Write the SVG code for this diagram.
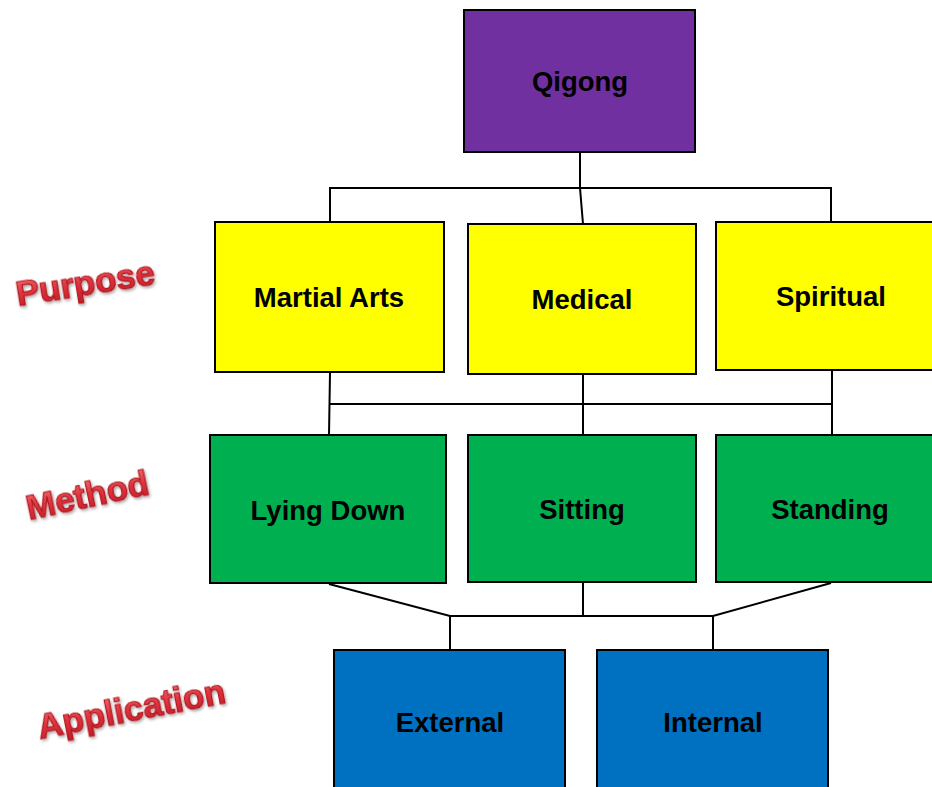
<svg xmlns="http://www.w3.org/2000/svg" width="932" height="787" viewBox="0 0 932 787">
<defs>
<linearGradient id="redg" x1="0" y1="0" x2="0" y2="1">
<stop offset="0" stop-color="#F4767A"/>
<stop offset="0.5" stop-color="#E0323C"/>
<stop offset="1" stop-color="#C01E28"/>
</linearGradient>
<filter id="sh" x="-20%" y="-30%" width="140%" height="160%">
<feDropShadow dx="1" dy="2" stdDeviation="1.5" flood-color="#000" flood-opacity="0.35"/>
</filter>
<style>
.box{stroke:#000;stroke-width:2}
.t{font-family:"Liberation Sans",Arial,sans-serif;font-weight:bold;font-size:27.5px;text-anchor:middle;fill:#000}
.w{font-family:"Liberation Sans",Arial,sans-serif;font-weight:bold;font-size:35px;fill:url(#redg);stroke:#B01820;stroke-width:1.2;filter:url(#sh)}
.c{fill:none;stroke:#000;stroke-width:2}
</style>
</defs>
<rect width="932" height="787" fill="#fff"/>
<g id="connectors">
<polyline class="c" points="580,152 580,188 583,224"/>
<polyline class="c" points="330,222 330,188 831,188 831,222"/>
<polyline class="c" points="330,373 329,435"/>
<line class="c" x1="583" y1="375" x2="583" y2="435"/>
<line class="c" x1="832" y1="371" x2="832" y2="435"/>
<line class="c" x1="330" y1="404" x2="832" y2="404"/>
<polyline class="c" points="329,584 450,616 713,616 831,583"/>
<line class="c" x1="583" y1="582" x2="583" y2="616"/>
<line class="c" x1="450" y1="616" x2="450" y2="650"/>
<line class="c" x1="713" y1="616" x2="713" y2="650"/>
</g>
<g id="qigong"><rect class="box" x="464" y="10" width="231" height="142" fill="#7030A0"/><text class="t" x="580" y="91">Qigong</text></g>
<g id="martial"><rect class="box" x="215" y="222" width="229" height="150" fill="#FFFF00"/><text class="t" x="329" y="307">Martial Arts</text></g>
<g id="medical"><rect class="box" x="468" y="224" width="228" height="150" fill="#FFFF00"/><text class="t" x="582" y="309">Medical</text></g>
<g id="spiritual"><rect class="box" x="716" y="222" width="220" height="148" fill="#FFFF00"/><text class="t" x="831" y="306">Spiritual</text></g>
<g id="lying"><rect class="box" x="210" y="435" width="236" height="148" fill="#00B050"/><text class="t" x="328" y="520">Lying Down</text></g>
<g id="sitting"><rect class="box" x="468" y="435" width="228" height="147" fill="#00B050"/><text class="t" x="582" y="519">Sitting</text></g>
<g id="standing"><rect class="box" x="716" y="435" width="220" height="147" fill="#00B050"/><text class="t" x="830" y="519">Standing</text></g>
<g id="external"><rect class="box" x="334" y="650" width="231" height="145" fill="#0070C0"/><text class="t" x="450" y="732">External</text></g>
<g id="internal"><rect class="box" x="597" y="650" width="231" height="145" fill="#0070C0"/><text class="t" x="713" y="732">Internal</text></g>
<g id="labels">
<text class="w" transform="translate(18,306) rotate(-9)">Purpose</text>
<text class="w" transform="translate(29,520) rotate(-12)">Method</text>
<text class="w" transform="translate(40,739) rotate(-11)">Application</text>
</g>
</svg>
